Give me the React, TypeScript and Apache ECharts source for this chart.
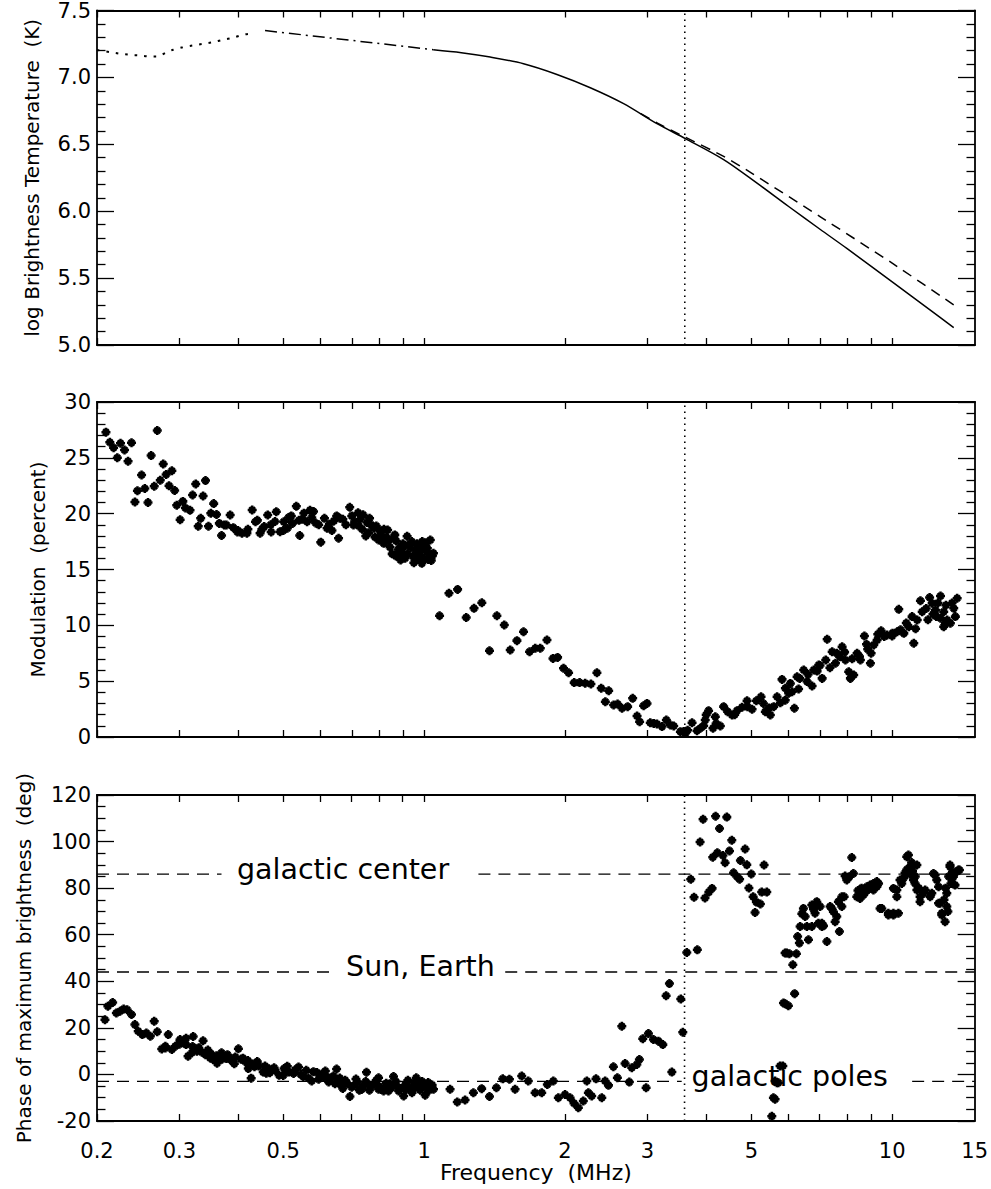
import React, { useEffect, useRef } from 'react';
import * as echarts from 'echarts';

const FONT = 'DejaVu Sans';

// x axis (frequency, MHz)
const freqTicks = [0.2, 0.3, 0.4, 0.5, 0.6, 0.7, 0.8, 0.9, 1, 2, 3, 4, 5, 6, 7, 8, 9, 10];
const freqLabels = [0.2, 0.3, 0.5, 1, 2, 3, 5, 10, 15];
const markerFreq = 3.6;

// Panel 1: log brightness temperature curves [MHz, log K]
const tbDotted = [
  [0.2, 7.205], [0.213, 7.189], [0.224, 7.177], [0.235, 7.169], [0.247, 7.164], [0.26, 7.157],
  [0.269, 7.157], [0.282, 7.189], [0.291, 7.207], [0.305, 7.226], [0.321, 7.239], [0.337, 7.251],
  [0.354, 7.263], [0.372, 7.281], [0.39, 7.296], [0.41, 7.319], [0.429, 7.326],
];
const tbDashDot = [[0.457, 7.35], [0.64, 7.292], [1.045, 7.207]];
const tbSolid = [
  [1.045, 7.207], [1.2, 7.185], [1.383, 7.152], [1.629, 7.102], [1.92, 7.022], [2.262, 6.923],
  [2.665, 6.804], [3.14, 6.654], [3.61, 6.543], [4.358, 6.386], [5.136, 6.21], [6, 6.035],
  [7, 5.865], [8, 5.72], [10, 5.47], [12, 5.265], [13.51, 5.13],
];
const tbDashed = [
  [2.9, 6.73], [3.14, 6.66], [3.61, 6.553], [4.358, 6.41], [5, 6.285], [7, 5.96], [10, 5.61], [13.51, 5.3],
];

// Panel 2: modulation (percent) [MHz, %]
const modulation = [
  [0.209, 27.3], [0.213, 26.4], [0.217, 25.9], [0.221, 25.0], [0.2245, 26.3], [0.229, 25.7], [0.233, 24.7],
  [0.237, 26.35], [0.241, 21.05], [0.244, 22.06], [0.249, 23.46], [0.253, 22.25], [0.257, 21.0], [0.261, 25.2],
  [0.265, 22.45], [0.269, 27.45], [0.273, 23.0], [0.277, 24.45], [0.281, 23.5], [0.285, 22.5], [0.289, 23.85],
  [0.293, 22.08], [0.296, 20.75], [0.301, 19.45], [0.305, 21.1], [0.309, 20.5], [0.316, 20.3], [0.32, 21.67],
  [0.325, 22.66], [0.329, 18.87], [0.333, 19.58], [0.337, 21.58], [0.341, 22.96], [0.346, 18.87], [0.35, 20.03],
  [0.355, 20.9], [0.36, 19.93], [0.365, 19.13], [0.369, 18.05], [0.374, 18.99], [0.378, 18.99], [0.385, 19.88],
  [0.391, 18.75], [0.399, 18.35], [0.408, 18.24], [0.418, 18.24], [0.429, 20.33], [0.436, 19.28], [0.446, 18.24],
  [0.455, 18.84], [0.463, 19.88], [0.471, 18.35], [0.483, 20.18], [0.492, 18.39], [0.501, 19.28], [0.513, 19.65],
  [0.523, 19.13], [0.533, 20.66], [0.542, 18.05], [0.553, 20.03], [0.562, 19.28], [0.575, 19.65], [0.586, 19.16],
  [0.601, 17.45], [0.612, 19.58], [0.627, 19.05], [0.641, 19.35], [0.656, 17.79], [0.67, 19.5], [0.693, 20.57],
  [0.706, 18.98], [0.722, 20.09], [0.737, 18.6], [0.75, 18.0], [0.764, 19.58], [0.78, 18.69], [0.799, 17.64],
  [0.819, 17.34], [0.835, 18.54], [0.854, 16.4], [0.871, 17.55], [0.89, 15.85], [0.89, 17.04], [0.903, 17.04],
  [0.919, 17.97], [0.935, 16.97], [0.957, 16.0], [0.957, 16.75], [0.973, 17.04], [0.973, 16.3], [0.988, 15.55],
  [1.004, 16.75], [1.004, 17.04], [1.03, 17.64], [1.046, 16.45],
  [0.45, 18.6], [0.47, 19.0], [0.5, 18.5], [0.52, 19.8], [0.55, 19.5], [0.58, 20.2], [0.595, 19.0], [0.635, 18.5],
  [0.66, 19.6], [0.68, 19.0], [0.71, 19.3], [0.73, 19.5], [0.76, 18.3], [0.79, 18.9], [0.81, 18.0], [0.84, 17.6],
  [0.86, 17.8], [0.88, 16.8], [0.9, 17.3], [0.92, 16.4], [0.94, 17.5], [0.96, 15.9], [0.98, 16.6], [1.0, 16.0],
  [1.02, 15.9], [1.04, 16.2], [0.99, 17.5], [0.95, 15.6], [1.015, 16.9], [1.035, 15.8], [0.91, 16.0], [0.87, 16.2],
  [0.82, 18.6], [0.77, 19.0], [0.74, 19.9], [0.7, 19.8], [0.65, 19.8], [0.62, 18.7], [0.57, 20.3], [0.54, 19.4],
  [0.51, 18.7], [0.48, 19.3], [0.44, 19.4], [0.42, 18.6], [0.4, 18.5],
  [0.845, 17.0], [0.865, 18.1], [0.895, 16.5], [0.925, 17.2], [0.945, 16.2], [0.965, 17.3], [0.985, 16.1],
  [1.01, 17.4], [1.025, 16.4], [0.83, 17.9], [0.805, 18.4], [0.785, 17.9], [0.755, 19.2], [0.725, 18.9],
  [1.078, 10.85], [1.129, 12.87], [1.178, 13.22], [1.229, 10.7], [1.277, 11.52], [1.327, 12.03], [1.378, 7.73],
  [1.429, 10.85], [1.482, 10.03], [1.526, 7.79], [1.577, 8.63], [1.629, 9.43], [1.678, 7.64], [1.726, 7.94],
  [1.769, 7.94], [1.828, 8.69], [1.883, 7.04], [1.926, 7.13], [1.983, 6.15], [2.033, 5.76], [2.09, 4.87],
  [2.146, 4.87], [2.206, 4.81], [2.269, 4.75], [2.337, 5.76], [2.387, 4.36], [2.476, 4.15], [2.436, 3.16],
  [2.537, 2.87], [2.587, 2.96], [2.644, 2.57], [2.718, 2.72], [2.786, 3.46], [2.847, 1.88], [2.883, 1.37],
  [2.94, 2.8], [2.99, 3.01], [3.038, 1.28], [3.09, 1.22], [3.14, 1.16], [3.219, 0.93], [3.288, 1.52], [3.354, 1.07],
  [3.409, 0.99], [3.523, 0.48], [3.61, 0.33], [3.58, 0.5], [3.65, 0.6], [3.731, 1.28], [3.823, 0.57], [3.886, 0.78],
  [3.981, 1.52], [4.047, 2.36], [4.136, 0.78], [4.183, 1.82], [4.288, 0.99], [4.358, 2.72], [4.445, 2.27],
  [4.542, 1.97], [4.655, 2.36], [4.771, 2.66], [4.89, 3.25], [5.012, 2.48], [5.119, 3.25], [5.238, 3.61],
  [5.35, 2.27], [5.483, 1.97], [5.574, 2.72], [5.668, 3.61], [5.76, 3.07], [5.808, 5.16], [5.904, 4.36], [6.0, 3.91],
  [6.102, 4.06], [6.171, 2.57], [6.254, 5.4], [6.334, 5.25], [6.46, 6.0], [6.57, 4.96], [6.733, 4.57], [6.788, 6.0],
  [6.956, 6.45], [7.074, 5.25], [7.251, 8.75], [7.431, 7.64], [7.552, 6.6], [7.713, 7.19], [7.804, 8.09],
  [7.932, 6.9], [8.061, 5.85], [8.128, 5.25], [8.261, 5.55], [8.401, 7.49], [8.538, 6.9], [8.708, 9.04], [8.85, 7.85],
  [8.969, 6.6], [9.117, 8.24], [9.27, 8.69], [9.455, 9.52], [9.737, 9.13], [9.98, 9.04], [10.23, 9.43],
  [10.31, 11.43], [10.57, 9.28], [10.83, 9.88], [11.01, 10.78], [11.1, 8.39], [11.29, 10.48], [11.47, 12.21],
  [11.57, 11.22], [12.15, 11.97], [12.35, 11.37], [12.66, 12.63], [12.66, 10.63], [12.86, 11.22], [12.86, 9.88],
  [12.97, 10.18], [13.08, 10.48], [13.29, 10.18], [13.51, 11.52], [13.62, 10.78], [13.74, 12.42],
  [6.6, 5.6], [6.9, 5.9], [7.0, 6.4], [7.2, 6.9], [7.35, 6.2], [7.6, 7.5], [7.9, 7.6], [8.2, 7.0], [8.5, 7.2],
  [8.8, 8.3], [9.0, 7.5], [9.3, 9.2], [9.6, 9.0], [10.0, 9.3], [10.4, 9.6], [10.7, 10.2], [11.2, 9.7], [11.8, 11.5],
  [12.0, 12.5], [12.4, 10.8], [12.5, 12.0], [13.0, 11.8], [13.4, 12.0], [12.2, 11.0], [11.9, 10.5], [5.3, 3.0],
  [5.9, 3.3], [6.3, 4.3], [4.6, 2.0], [4.9, 2.7], [4.2, 1.2], [3.95, 1.0], [4.0, 2.0], [5.45, 2.6], [6.05, 4.8],
];

// Panel 3: phase of maximum brightness (deg) [MHz, deg]
const phase = [
  [0.208, 23.5], [0.211, 29.25], [0.216, 30.9], [0.22, 26.4], [0.224, 27.1], [0.228, 28.1], [0.232, 27.8],
  [0.237, 25.7], [0.241, 21.4], [0.245, 18.55], [0.25, 17.1], [0.255, 17.8], [0.26, 16.4], [0.265, 22.8],
  [0.269, 18.3], [0.275, 10.9], [0.28, 12.1], [0.28, 11.4], [0.284, 17.1], [0.289, 10.7], [0.294, 12.1],
  [0.301, 15.0], [0.301, 14.3], [0.306, 13.6], [0.31, 12.8], [0.313, 7.85], [0.319, 9.3], [0.321, 16.3],
  [0.327, 10.0], [0.337, 14.5], [0.341, 8.5], [0.349, 7.1], [0.354, 6.4], [0.361, 4.8], [0.369, 9.3], [0.378, 6.8],
  [0.385, 6.4], [0.393, 4.6], [0.401, 11.0], [0.406, 6.5], [0.414, 5.7], [0.421, 2.5], [0.421, 4.3], [0.427, -1.6],
  [0.434, 3.3], [0.443, 3.6], [0.453, 1.0], [0.457, 3.6], [0.466, 2.4], [0.468, 0.7], [0.478, 2.85], [0.49, -0.4],
  [0.502, 2.5], [0.514, 1.0], [0.526, 0.4], [0.539, 3.2], [0.552, -1.0], [0.566, -1.5], [0.58, 1.2], [0.595, -2.1],
  [0.61, -0.85], [0.625, -3.2], [0.64, -0.7], [0.65, 2.3], [0.662, -4.3], [0.678, -2.5], [0.694, -9.5],
  [0.709, -4.7], [0.727, -6.8], [0.741, -5.0], [0.753, 0.9], [0.764, -6.8], [0.783, -3.9], [0.799, -1.4],
  [0.799, -6.4], [0.819, -5.7], [0.819, -7.1], [0.839, -7.1], [0.86, -0.9], [0.882, -7.1], [0.904, -9.3],
  [0.923, -2.5], [0.942, -7.85], [0.962, -1.4], [0.981, -6.8], [1.005, -8.9], [1.03, -4.3], [1.047, -6.4],
  [0.3, 13.0], [0.31, 15.5], [0.32, 12.0], [0.33, 11.5], [0.335, 9.5], [0.345, 10.5], [0.35, 9.0], [0.36, 8.0],
  [0.365, 7.5], [0.37, 6.5], [0.38, 8.5], [0.39, 5.5], [0.395, 7.5], [0.41, 7.0], [0.42, 6.0], [0.43, 4.5],
  [0.44, 5.5], [0.46, 0.5], [0.48, 1.8], [0.5, -0.5], [0.51, 3.5], [0.53, 2.0], [0.545, 0.0], [0.56, 1.8],
  [0.575, -2.8], [0.59, 0.8], [0.6, -1.2], [0.615, 1.5], [0.63, -2.0], [0.645, -4.0], [0.66, -1.5], [0.67, -6.0],
  [0.685, -3.8], [0.7, -5.5], [0.715, -2.0], [0.735, -6.5], [0.75, -3.0], [0.77, -5.0], [0.79, -2.5], [0.81, -6.5],
  [0.83, -3.8], [0.85, -5.8], [0.87, -3.0], [0.89, -6.0], [0.91, -4.5], [0.93, -5.5], [0.95, -3.5], [0.97, -4.8],
  [0.99, -3.0], [1.01, -5.5], [1.02, -3.5], [1.04, -4.5],
  [0.72, -3.5], [0.76, -4.2], [0.8, -5.0], [0.845, -4.0], [0.875, -5.2], [0.915, -6.5], [0.955, -5.8],
  [0.995, -4.6], [1.025, -6.8], [0.62, -1.0], [0.655, -2.8], [0.605, 0.2],
  [1.136, -6.4], [1.177, -11.8], [1.223, -11.0], [1.274, -7.85], [1.327, -6.1], [1.379, -9.5], [1.427, -5.7],
  [1.472, -1.9], [1.521, -2.1], [1.564, -6.4], [1.616, -0.7], [1.669, -2.85], [1.726, -7.85], [1.783, -7.85],
  [1.833, -4.3], [1.888, -2.85], [1.935, -10.0], [2.0, -8.6], [2.05, -10.0], [2.09, -12.4], [2.135, -14.3],
  [2.188, -11.4], [2.226, -2.85], [2.243, -7.85], [2.28, -9.3], [2.329, -1.9], [2.396, -10.0], [2.436, -2.85],
  [2.476, -4.7], [2.537, 3.3], [2.587, -1.4], [2.644, 20.7], [2.687, 4.7], [2.744, -3.3], [2.777, 2.85],
  [2.847, 4.3], [2.883, 6.4], [2.931, 15.3], [2.98, -5.7], [3.014, 17.55], [3.089, 15.0], [3.166, 14.3],
  [3.235, 12.8], [3.288, 33.8], [3.342, 39.0], [3.382, 1.0], [3.534, 32.4], [3.569, 18.1], [3.64, 52.4],
  [3.712, 83.8], [3.772, 76.1], [3.834, 53.5], [3.886, 99.8], [3.944, 109.6], [3.981, 75.8], [4.058, 78.3],
  [4.122, 79.9], [4.136, 93.3], [4.194, 110.9], [4.276, 105.6], [4.231, 95.2], [4.348, 94.0], [4.395, 90.9],
  [4.432, 110.5], [4.491, 96.0], [4.542, 100.6], [4.582, 86.6], [4.658, 85.0], [4.72, 83.8], [4.739, 91.9],
  [4.85, 96.8], [4.89, 90.0], [4.941, 80.1], [5.0, 86.1], [5.045, 76.3], [5.093, 69.5], [5.126, 74.0],
  [5.228, 73.2], [5.262, 78.3], [5.324, 89.9], [5.395, 78.3],
  [5.53, -18.0], [5.574, -10.0], [5.62, -10.7], [5.62, -2.85], [5.668, -3.6], [5.712, -3.6], [5.76, 3.6], [5.838, 3.6],
  [5.857, 30.7], [5.904, 52.1], [5.904, 30.4], [5.952, 52.1], [6.0, 29.5], [6.031, 51.8], [6.132, 47.1],
  [6.187, 34.7], [6.242, 51.8], [6.279, 59.2], [6.334, 56.4], [6.357, 63.5], [6.411, 69.0], [6.46, 71.3],
  [6.516, 67.8], [6.57, 63.5], [6.623, 57.8], [6.733, 63.5], [6.733, 72.8], [6.788, 72.1], [6.788, 70.9],
  [6.842, 69.2], [6.9, 74.2], [6.956, 64.9], [7.014, 72.1], [7.074, 63.5], [7.074, 64.9], [7.13, 63.8],
  [7.251, 57.1], [7.368, 72.1], [7.431, 71.3], [7.488, 69.9], [7.552, 65.6], [7.612, 67.8], [7.674, 74.2],
  [7.713, 61.4], [7.804, 72.1], [7.804, 76.3], [7.894, 76.3], [7.932, 85.2], [7.997, 83.5], [8.061, 84.6],
  [8.1, 84.9], [8.196, 93.2], [8.261, 86.3], [8.401, 76.3], [8.538, 75.6], [8.538, 77.8], [8.677, 77.1],
  [8.677, 79.2], [8.825, 79.2], [8.825, 80.6], [8.969, 80.6], [8.969, 81.3], [9.117, 82.0], [9.117, 79.2],
  [9.27, 82.8], [9.27, 80.6], [9.42, 71.3], [9.5, 71.3], [9.813, 69.2], [9.813, 68.5], [10.06, 69.2], [10.06, 68.5],
  [10.06, 79.9], [10.23, 79.2], [10.23, 76.3], [10.31, 69.2], [10.39, 83.5], [10.48, 82.0], [10.57, 84.2],
  [10.65, 86.6], [10.74, 93.5], [10.83, 94.2], [10.92, 89.2], [11.1, 83.5], [11.1, 85.6], [11.19, 82.0],
  [11.29, 79.2], [11.29, 89.9], [11.47, 74.2], [11.47, 76.3], [11.66, 77.8], [11.76, 79.2], [12.05, 76.3],
  [12.15, 77.8], [12.25, 86.3], [12.35, 85.6], [12.45, 83.5], [12.56, 73.5], [12.56, 80.6], [12.66, 73.5],
  [12.76, 69.2], [12.76, 68.5], [12.97, 65.6], [13.08, 72.1], [13.08, 77.8], [13.29, 89.2], [13.29, 89.9],
  [13.4, 84.2], [13.51, 84.9], [13.62, 81.3], [13.74, 87.0], [13.85, 87.8], [13.92, 87.8],
  [8.6, 80.0], [8.75, 78.0], [8.9, 79.5], [9.05, 80.5], [9.2, 81.5], [8.45, 79.0], [9.35, 82.0], [10.9, 86.0],
  [11.0, 91.0], [11.05, 87.5], [10.75, 88.0], [11.2, 85.0], [11.4, 80.0], [12.9, 75.0], [13.0, 80.0], [13.2, 85.0],
  [13.35, 82.0], [13.45, 87.0], [13.15, 70.0],
];

// Reference directions in panel 3
const refNames = ['galactic center', 'Sun, Earth', 'galactic poles'];
const refPhases = [86, 44, -3];

// layout (not data)
const refLayout = [
  { textAt: 0.671, segments: [[0.2, 0.369], [1.306, 15]] },
  { textAt: 0.982, segments: [[0.2, 0.64], [1.49, 15]] },
  { textAt: 6.04, segments: [[0.2, 3.55], [11.03, 15]] },
];

const STAR =
  'path://M3.6 0L6.4 0L6.4 10L3.6 10Z M0 3.6L10 3.6L10 6.4L0 6.4Z M0.8 2.8L2.8 0.8L9.2 7.2L7.2 9.2Z M7.2 0.8L9.2 2.8L2.8 9.2L0.8 7.2Z';

const BLACK = '#000';
const fmtFreq = (v: number) => String(+Number(v).toPrecision(3));

function xAxesFor(grid: number, bottom: boolean) {
  const base: any = {
    type: 'log',
    logBase: 10,
    min: 0.2,
    max: 15,
    gridIndex: grid,
    splitLine: { show: false },
    axisLine: { show: true, onZero: false, lineStyle: { color: BLACK, width: 1.8 } },
    axisTick: { show: true, inside: true, length: 7, customValues: freqTicks, lineStyle: { color: BLACK, width: 1.3 } },
    minorTick: { show: false },
  };
  return [
    {
      ...base,
      position: 'bottom',
      axisLabel: {
        show: bottom,
        customValues: freqLabels,
        formatter: fmtFreq,
        margin: 19,
        fontSize: 21,
        color: BLACK,
        fontFamily: FONT,
      },
      name: bottom ? 'Frequency  (MHz)' : '',
      nameLocation: 'middle',
      nameGap: 35,
      nameTextStyle: { fontSize: 22, color: BLACK, fontFamily: FONT },
    },
    { ...base, position: 'top', axisLabel: { show: false } },
  ];
}

function yAxesFor(
  grid: number,
  min: number,
  max: number,
  interval: number,
  split: number,
  name: string,
  nameGap: number,
  fmt: (v: number) => string,
) {
  const base: any = {
    type: 'value',
    min,
    max,
    interval,
    gridIndex: grid,
    splitLine: { show: false },
    axisLine: { show: true, onZero: false, lineStyle: { color: BLACK, width: 1.8 } },
    axisTick: { show: true, inside: true, length: 17, lineStyle: { color: BLACK, width: 1.3 } },
    minorTick: { show: true, splitNumber: split, length: 8.5, lineStyle: { color: BLACK, width: 1.3 } },
  };
  return [
    {
      ...base,
      position: 'left',
      axisLabel: { show: true, margin: 6, fontSize: 21, color: BLACK, fontFamily: FONT, formatter: fmt },
      name,
      nameLocation: 'middle',
      nameRotate: 90,
      nameGap,
      nameTextStyle: { fontSize: 20, color: BLACK, fontFamily: FONT },
    },
    { ...base, position: 'right', axisLabel: { show: false } },
  ];
}

function line(data: any[], xi: number, yi: number, type: any, width = 1.5, smooth: any = false): any {
  return {
    type: 'line',
    data,
    xAxisIndex: xi,
    yAxisIndex: yi,
    showSymbol: false,
    symbol: 'none',
    smooth,
    silent: true,
    lineStyle: { color: BLACK, width, type, opacity: 1 },
    z: 3,
  };
}

function scatter(data: any[], xi: number, yi: number): any {
  return {
    type: 'scatter',
    data,
    xAxisIndex: xi,
    yAxisIndex: yi,
    symbol: STAR,
    symbolSize: 9,
    silent: true,
    itemStyle: { color: BLACK, opacity: 1 },
    z: 4,
  };
}

function buildOption(): any {
  const yRanges = [
    [5, 7.5],
    [0, 30],
    [-20, 120],
  ];
  const series: any[] = [
    line(tbDotted, 0, 0, [2.5, 7], 2, 0.3),
    line(tbDashDot, 0, 0, [12, 5, 2, 5], 1.5),
    line(tbSolid, 0, 0, 'solid', 1.5, 0.3),
    line(tbDashed, 0, 0, [10, 7], 1.5, 0.2),
    scatter(modulation, 2, 2),
    scatter(phase, 4, 4),
  ];
  // vertical dotted marker line in each panel
  yRanges.forEach((r, i) => {
    series.push(line([[markerFreq, r[0]], [markerFreq, r[1]]], i * 2, i * 2, [1.6, 4.4], 1.6));
  });
  // reference lines and names in panel 3
  refPhases.forEach((p, i) => {
    refLayout[i].segments.forEach((seg) => {
      series.push(line([[seg[0], p], [seg[1], p]], 4, 4, [12, 8], 1.4));
    });
    series.push({
      type: 'scatter',
      data: [[refLayout[i].textAt, p]],
      xAxisIndex: 4,
      yAxisIndex: 4,
      symbol: 'circle',
      symbolSize: 1,
      silent: true,
      itemStyle: { color: 'rgba(255,255,255,0)', opacity: 1 },
      label: {
        show: true,
        position: 'inside',
        formatter: refNames[i],
        fontSize: 28.5,
        color: BLACK,
        opacity: 1,
        fontFamily: FONT,
        offset: [0, -5],
      },
      z: 5,
    });
  });

  return {
    animation: false,
    backgroundColor: '#fff',
    grid: [
      { left: 97, width: 878, top: 10, height: 335 },
      { left: 97, width: 878, top: 402, height: 335 },
      { left: 97, width: 878, top: 795, height: 326 },
    ],
    xAxis: [...xAxesFor(0, false), ...xAxesFor(1, false), ...xAxesFor(2, true)],
    yAxis: [
      ...yAxesFor(0, 5, 7.5, 0.5, 5, 'log Brightness Temperature  (K)', 55, (v) => Number(v).toFixed(1)),
      ...yAxesFor(1, 0, 30, 5, 5, 'Modulation  (percent)', 49, (v) => String(v)),
      ...yAxesFor(2, -20, 120, 20, 4, 'Phase of maximum brightness  (deg)', 63, (v) => String(v)),
    ],
    series,
  };
}

export default function App() {
  const ref = useRef<HTMLDivElement>(null);
  useEffect(() => {
    if (!ref.current) return;
    const chart = echarts.init(ref.current, null, { renderer: 'svg' });
    chart.setOption(buildOption());
    return () => chart.dispose();
  }, []);
  return (
    <div
      ref={ref}
      style={{ position: 'absolute', left: 0, top: 0, width: 991, height: 1189, background: '#fff' }}
    />
  );
}
